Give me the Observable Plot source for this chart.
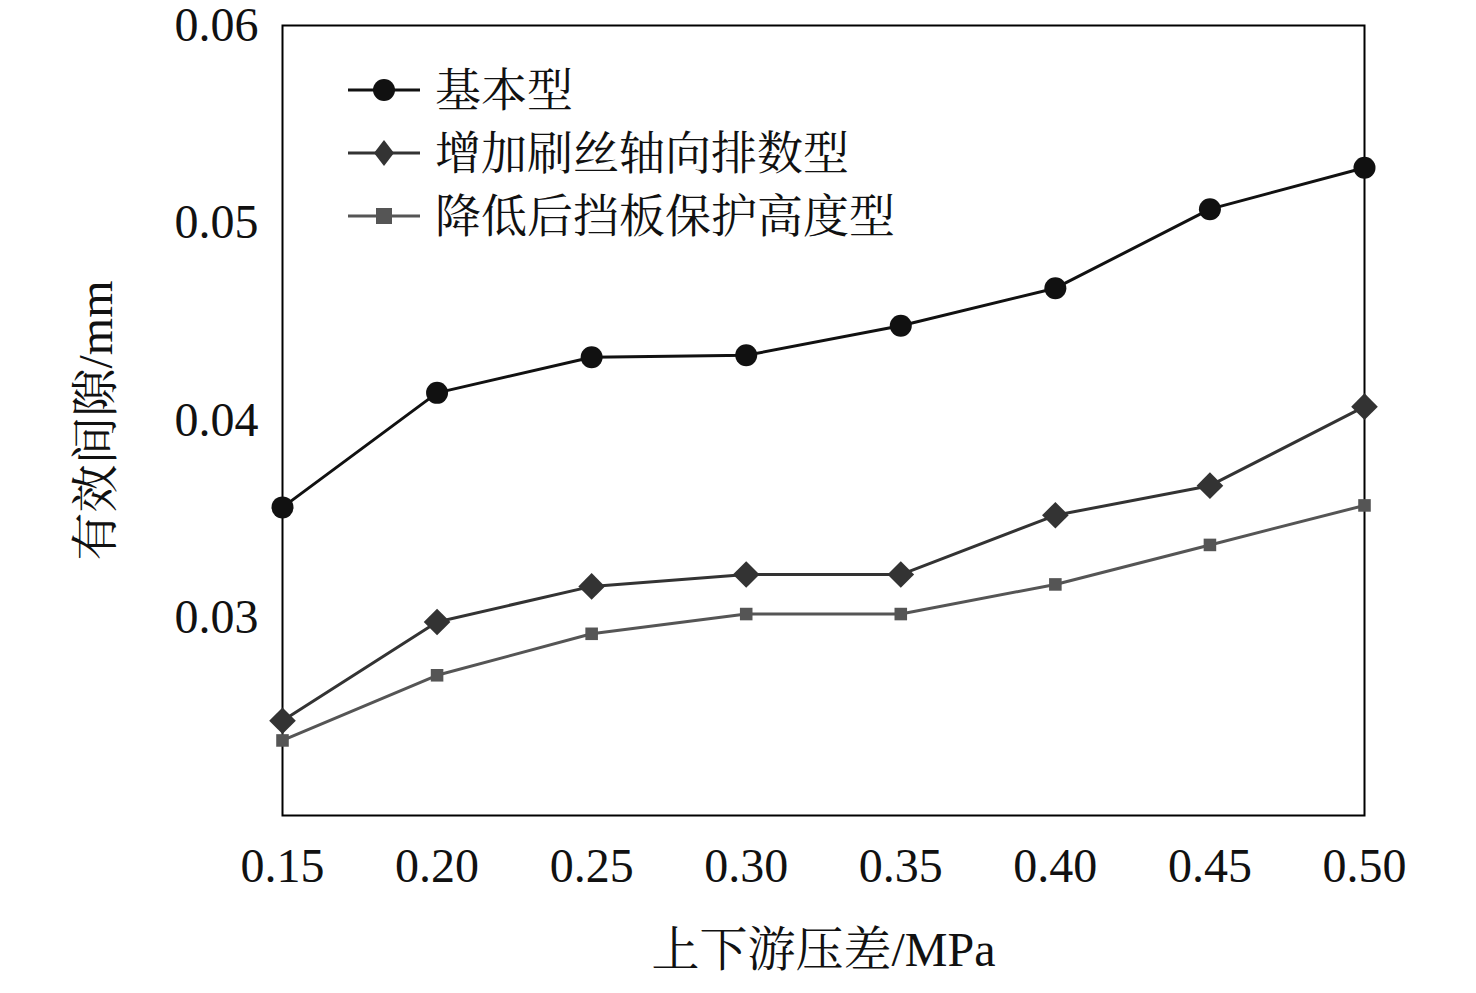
<!DOCTYPE html>
<html><head><meta charset="utf-8">
<script src="https://cdn.jsdelivr.net/npm/d3@7"></script>
<script src="https://cdn.jsdelivr.net/npm/@observablehq/plot@0.6"></script>
<style>
body{margin:0;background:#fff;}
#wrap{position:relative;width:1476px;height:993px;}
svg text{font-family:"Liberation Serif","Noto Serif CJK SC","Noto Sans CJK SC",serif;}
</style></head><body><div id="wrap"></div>
<script>
const pressure = [0.15,0.20,0.25,0.30,0.35,0.40,0.45,0.50];
const basic = [0.0356,0.0414,0.0432,0.0433,0.0448,0.0467,0.0507,0.0528];
const moreRows = [0.0248,0.0298,0.0316,0.0322,0.0322,0.0352,0.0367,0.0407];
const lowerPlate = [0.0238,0.0271,0.0292,0.0302,0.0302,0.0317,0.0337,0.0357];
const seriesNames = ["基本型","增加刷丝轴向排数型","降低后挡板保护高度型"];
const yTicks = [0.03,0.04,0.05,0.06];

const colors = ["#111","#333","#555"];
const symbols = ["circle","diamond2","square2"];
const sizes = [11,12,8];
const all = [basic,moreRows,lowerPlate];
const data = all.flatMap((s,i)=>s.map((v,j)=>({x:pressure[j],y:v,k:i})));

const fontF = '"Liberation Serif","Noto Sans CJK SC",serif';
const marks = [Plot.frame({stroke:"#000",strokeWidth:2})];
all.forEach((s,i)=>{
  const d = data.filter(r=>r.k===i);
  marks.push(Plot.line(d,{x:"x",y:"y",stroke:colors[i],strokeWidth:3}));
  marks.push(Plot.dot(d,{x:"x",y:"y",fill:colors[i],r:sizes[i],symbol:symbols[i],stroke:null}));
});
marks.push(()=>{
  const g = d3.create("svg:g");
  seriesNames.forEach((n,i)=>{
    const y0 = 90 + i*63, x0 = 348, cx = x0+36;
    g.append("line").attr("x1",x0).attr("x2",x0+72).attr("y1",y0).attr("y2",y0).attr("stroke",colors[i]).attr("stroke-width",3);
    if(i===0) g.append("circle").attr("cx",cx).attr("cy",y0).attr("r",11).attr("fill",colors[i]);
    else if(i===1) g.append("path").attr("d",`M${cx},${y0-13}L${cx+10},${y0}L${cx},${y0+13}L${cx-10},${y0}Z`).attr("fill",colors[i]);
    else g.append("rect").attr("x",cx-8).attr("y",y0-8).attr("width",16).attr("height",16).attr("fill",colors[i]);
    g.append("text").attr("x",435).attr("y",y0).attr("dy","0.35em").attr("text-anchor","start")
      .attr("font-size",46).attr("fill","#111").text(n);
  });
  return g.node();
});

const chart = Plot.plot({
  width:1476,height:993,
  marginLeft:282,marginRight:112,marginTop:25,marginBottom:178,
  style:{fontFamily:fontF,fontSize:"48px",color:"#111",background:"#fff"},
  x:{domain:[0.15,0.5],ticks:pressure,tickFormat:d3.format(".2f"),tickSize:0,tickPadding:32,
     label:"上下游压差/MPa",labelAnchor:"center",labelOffset:150,labelArrow:"none"},
  y:{domain:[0.02,0.06],ticks:yTicks,tickFormat:d3.format(".2f"),tickSize:0,tickPadding:24,
     label:"有效间隙/mm",labelAnchor:"center",labelOffset:205,labelArrow:"none"},
  marks
});
document.getElementById("wrap").appendChild(chart);
</script></body></html>
